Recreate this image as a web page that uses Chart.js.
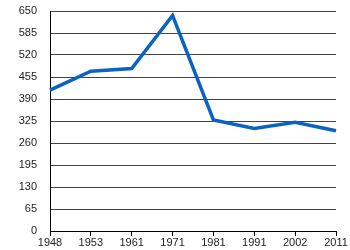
<!DOCTYPE html>
<html>
<head>
  <meta charset="UTF-8">
  <script src="https://cdn.jsdelivr.net/npm/chart.js"></script>
  <style>
    html, body { margin: 0; padding: 0; background: #fff; }
    #wrap { width: 350px; height: 250px; }
  </style>
</head>
<body>
  <div id="wrap"><canvas id="chart" width="350" height="250"></canvas></div>
  <script>
    // data
    const years = ['1948', '1953', '1961', '1971', '1981', '1991', '2002', '2011'];
    const values = [416, 472, 480, 637, 328, 303, 321, 296];
    const yTicks = [0, 65, 130, 195, 260, 325, 390, 455, 520, 585, 650];

    Chart.defaults.font.family = '"Liberation Sans", Arial, sans-serif';
    Chart.defaults.font.size = 11;
    Chart.defaults.color = '#222';

    new Chart(document.getElementById('chart'), {
      type: 'line',
      data: {
        labels: years,
        datasets: [{
          data: values,
          borderColor: '#0a63c2',
          borderWidth: 3.5,
          pointRadius: 0,
          tension: 0,
          fill: false
        }]
      },
      options: {
        responsive: false,
        animation: false,
        layout: { padding: { top: 11, right: 14, left: 0, bottom: 0 } },
        plugins: { legend: { display: false }, tooltip: { enabled: false } },
        scales: {
          x: {
            offset: false,
            grid: { display: true, drawOnChartArea: false, color: '#000', tickLength: 5 },
            border: { color: '#000', width: 1 },
            ticks: { padding: 0, maxRotation: 0, autoSkip: false, color: '#222' },
            // fixed axis size so the plot area sits where the reference has it
            afterFit: s => { s.height = 19; s.paddingLeft = 0; s.paddingRight = 0; }
          },
          y: {
            min: 0,
            max: 650,
            afterBuildTicks: s => { s.ticks = yTicks.map(v => ({ value: v })); },
            grid: { color: '#444', lineWidth: 1, drawTicks: false },
            border: { color: '#000', width: 1 },
            ticks: { padding: 13, color: '#222' },
            afterFit: s => { s.width = 50; s.paddingTop = 0; s.paddingBottom = 0; }
          }
        }
      }
    });
  </script>
</body>
</html>
